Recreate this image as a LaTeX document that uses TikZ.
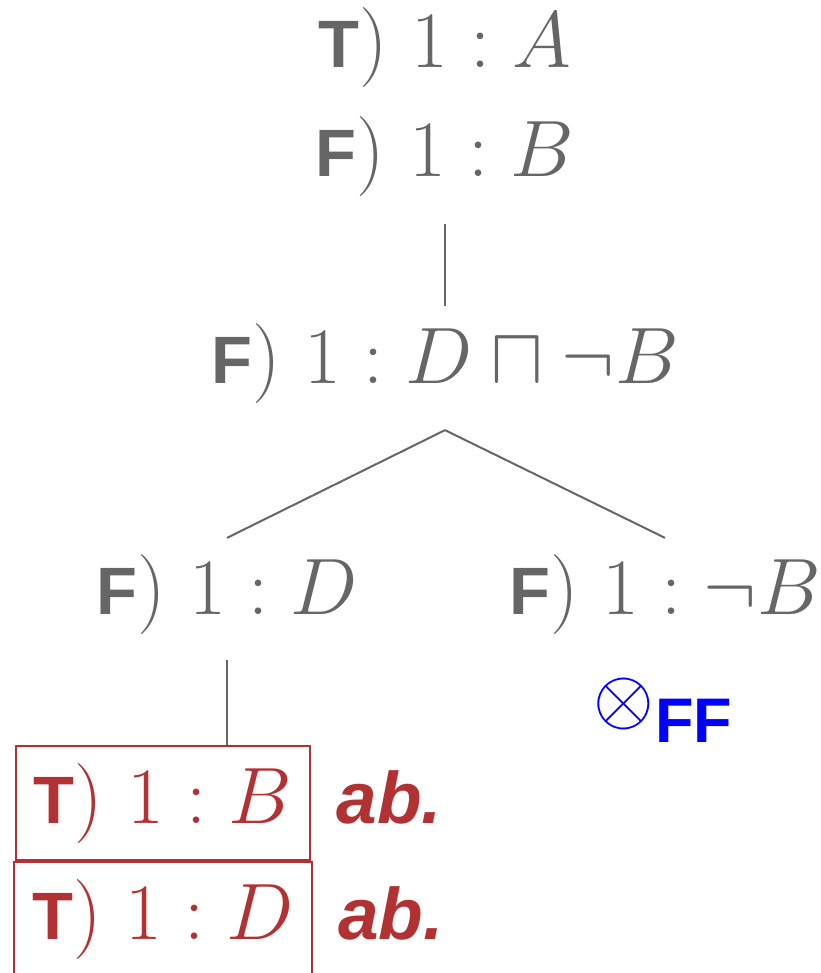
\RequirePackage{fix-cm}
\documentclass[tikz,border=0pt]{standalone}
\usepackage{fontspec}
\newfontfamily\tabsans{Liberation Sans}
\usetikzlibrary{calc,positioning}

\definecolor{tabgray}{RGB}{102,102,102}
\definecolor{tabred}{RGB}{178,50,52}
\definecolor{tabblue}{RGB}{0,0,255}

% sign of a tableau entry (T / F)
\newcommand{\tsign}[1]{{\fontsize{67}{80}\selectfont\tabsans\bfseries #1}}

\begin{document}
\begin{tikzpicture}[x=1pt,y=-1pt]

\tikzset{
  frm/.style={anchor=base, inner sep=0pt, text=tabgray, font=\fontsize{80}{96}\selectfont},
  clash/.style={frm, text=tabred, draw=tabred, line width=2.6pt, inner xsep=18pt, inner ysep=17pt},
  abtxt/.style={inner sep=0pt, text=tabred, font=\fontsize{73}{88}\selectfont\tabsans\bfseries\itshape},
  crossmark/.style={inner sep=0pt, text=tabblue, font=\fontsize{78}{90}\selectfont},
  fftxt/.style={inner sep=0pt, text=tabblue, font=\fontsize{63}{75}\selectfont\tabsans\bfseries},
  branch/.style={draw=tabgray, line width=2pt}
}

\useasboundingbox (0,0) rectangle (820,973);

% --------------------
% Root of the tableau
% --------------------
\node[frm] (tA)  at (445,68)  {\tsign{T}$)\ 1 : A$};
\node[frm] (fB)  at (445,177) {\tsign{F}$)\ 1 : B$};
\node[frm] (fDB) at (445,383) {\tsign{F}$)\ 1 : D \sqcap \neg B$};

% --------------------
% The two branches
% --------------------
\node[frm] (fD)  at (227,614) {\tsign{F}$)\ 1 : D$};
\node[frm] (fnB) at (665,614) {\tsign{F}$)\ 1 : \neg B$};

% --------------------
% Closed branch (left)
% --------------------
\node[clash] (tB) at (163,823) {\tsign{T}$)\ 1 : B$};
\node[clash] (tD) at (163,939) {\tsign{T}$)\ 1 : D$};
\node[abtxt, base right=25pt of tB] (abB) {ab.};
\node[abtxt, base right=25pt of tD] (abD) {ab.};

% --------------------
% Open branch (right)
% --------------------
\node[crossmark] (cl) at (623.5,704) {$\otimes$};
\node[fftxt, anchor=base west] (ff) at (655,742) {FF};

% --------------------
% Connectors
% --------------------
\draw[branch, shorten <=27pt, shorten >=17pt] (fB) -- (fDB);
\coordinate (fork) at ($(fDB.south)+(0,27)$);
\draw[branch] (fork) -- ($(fD.north)+(0,-16)$);
\draw[branch] (fork) -- ($(fnB.north)+(0,-16)$);
\draw[branch, shorten <=26pt] (fD.south) -- (fD.south |- tB.north);

\end{tikzpicture}
\end{document}
